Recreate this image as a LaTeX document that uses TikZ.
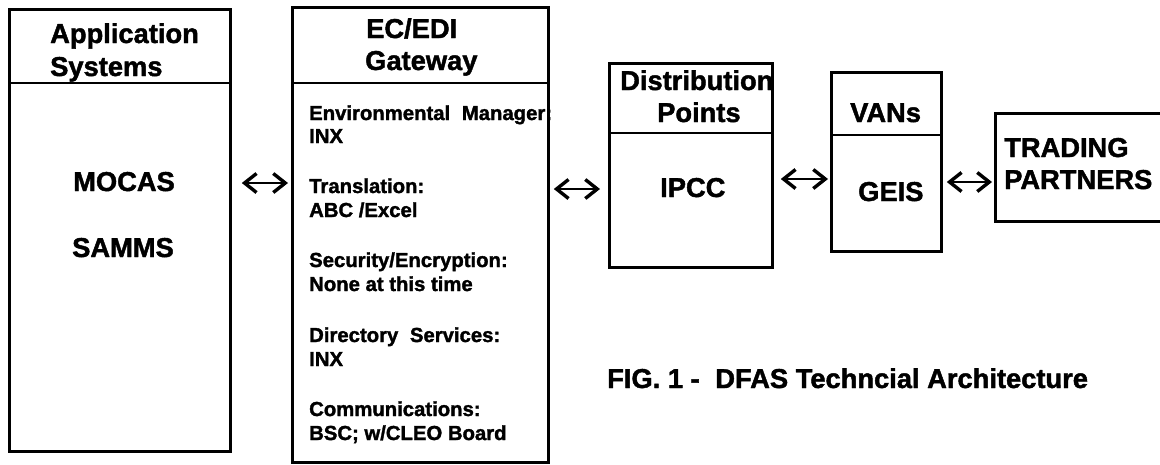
\documentclass[tikz,border=0pt]{standalone}
\usepackage{fontspec}
\setmainfont[BoldFeatures={FakeBold=1.6}]{Liberation Sans}
\usetikzlibrary{arrows.meta}
\tikzset{
  x=1pt,y=-1pt,
  boxframe/.style={draw=black,line width=2.8pt,inner sep=0pt,anchor=north west},
  sep/.style={draw=black,line width=2.8pt},
  big/.style={inner sep=0pt,anchor=base west,font=\fontsize{27.3}{30}\bfseries\selectfont},
  small/.style={inner sep=0pt,anchor=base west,font=\fontsize{20.3}{23}\bfseries\selectfont},
  link/.style={line width=2.8pt,{Straight Barb[length=12pt,width=19pt,line width=3.4pt]}-{Straight Barb[length=12pt,width=19pt,line width=3.4pt]}},
}
\newcommand{\boxat}[5]{\node[boxframe,minimum width=#4pt-#2pt,minimum height=#5pt-#3pt] (#1) at (#2-1,#3-1) {};}
\begin{document}
\begin{tikzpicture}
\useasboundingbox (0,0) rectangle (1160,464);
\fill[white] (0,0) rectangle (1160,464);
\boxat{app}{9}{9}{230}{451}
\boxat{gw}{292}{7}{548}{462}
\boxat{dp}{609}{63}{772}{267}
\boxat{van}{831}{72}{941}{251}
\boxat{tp}{995}{113}{1164}{221}
\draw[sep] (app.west |- 0,83) -- (app.east |- 0,83);
\draw[sep] (gw.west |- 0,83) -- (gw.east |- 0,83);
\draw[sep] (dp.west |- 0,133) -- (dp.east |- 0,133);
\draw[sep] (van.west |- 0,135) -- (van.east |- 0,135);
% header text
\node[big] (t1) at (50,43) {Application};
\node[big] (t2) at (50,76) {Systems};
\node[big] (t3) at (366,38) {EC/EDI};
\node[big] (t4) at (365,70) {Gateway};
\node[big] (t5) at (620,90) {Distribution};
\node[big] (t6) at (657,122) {Points};
\node[big] (t7) at (850,122) {VANs};
\node[big] (m1) at (73,191) {MOCAS};
\node[big] (m2) at (72,257) {SAMMS};
\node[big] (m3) at (660,197) {IPCC};
\node[big] (m4) at (858,201) {GEIS};
\node[big] (p1) at (1004,157) {TRADING};
\node[big] (p2) at (1004,189) {PARTNERS};
\node[small] (g1) at (309,120) {Environmental\hspace{6pt} Manager:};
\node[small] (g2) at (309,143) {INX};
\node[small] (g3) at (309,193) {Translation:};
\node[small] (g4) at (309,217) {ABC /Excel};
\node[small] (g5) at (309,267) {Security/Encryption:};
\node[small] (g6) at (309,291) {None at this time};
\node[small] (g7) at (309,342) {Directory\hspace{6pt} Services:};
\node[small] (g8) at (309,366) {INX};
\node[small] (g9) at (309,416) {Communications:};
\node[small] (g10) at (309,440) {BSC; w/CLEO Board};
\node[inner sep=0pt,anchor=base west,font=\fontsize{27.3}{30}\bfseries\selectfont] (cap) at (607,388) {FIG. 1 -\hspace{8pt} DFAS Techncial Architecture};
\draw[link,shorten <=10pt,shorten >=3pt] (app.east |- 0,183) -- (gw.west |- 0,183);
\draw[link,shorten <=4pt,shorten >=8pt] (gw.east |- 0,189) -- (dp.west |- 0,189);
\draw[link,shorten <=7pt,shorten >=2pt] (dp.east |- 0,179) -- (van.west |- 0,179);
\draw[link,shorten <=4pt,shorten >=2pt] (van.east |- 0,182) -- (tp.west |- 0,182);
\end{tikzpicture}
\end{document}
